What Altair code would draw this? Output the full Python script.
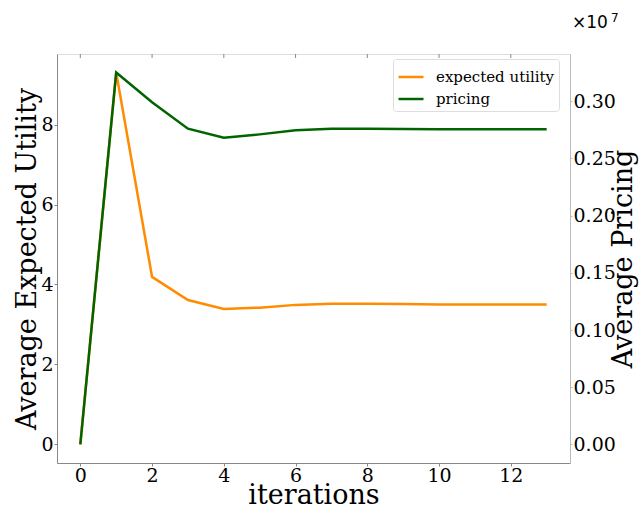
import altair as alt
import pandas as pd

iterations = list(range(14))
utility = [0, 9.3, 4.19, 3.61, 3.39, 3.42, 3.49, 3.52, 3.52, 3.51, 3.50, 3.50, 3.50, 3.50]
pricing = [0, 3.25e6, 2.99e6, 2.76e6, 2.68e6, 2.71e6, 2.745e6, 2.76e6, 2.76e6, 2.757e6,
           2.755e6, 2.755e6, 2.755e6, 2.755e6]
series = ["expected utility", "pricing"]
colors = ["#ff8c00", "#006400"]
x_ticks = [0, 2, 4, 6, 8, 10, 12]
left_ticks = [0, 2, 4, 6, 8]
right_ticks = [0, 5e5, 1e6, 1.5e6, 2e6, 2.5e6, 3e6]

df_u = pd.DataFrame({"iterations": iterations, "value": utility, "series": series[0]})
df_p = pd.DataFrame({"iterations": iterations, "value": pricing, "series": series[1]})
df_t = pd.DataFrame({"t": x_ticks})

FONT = "DejaVu Serif"
xscale = alt.Scale(domain=[-0.65, 13.65], nice=False, zero=False)
color = alt.Color("series:N", scale=alt.Scale(domain=series, range=colors),
                  legend=alt.Legend(title=None, orient="none", legendX=336, legendY=5,
                                    symbolType="stroke", symbolSize=625, symbolStrokeWidth=2.5,
                                    labelFont=FONT, labelFontSize=15, labelColor="#000",
                                    strokeColor="#dddddd", fillColor="white", padding=4,
                                    cornerRadius=3, rowPadding=-2, labelOffset=11))

xaxis = alt.Axis(values=x_ticks, title="iterations", titleFont=FONT, titleFontSize=27,
                 titleFontWeight="normal", titleColor="#000", labelFont=FONT, labelFontSize=19,
                 labelColor="#000", tickSize=3, tickColor="#888", domainColor="#888",
                 labelPadding=0, titleBaseline="alphabetic", titleY=40, titleX=256.5,
                 grid=False)

left = alt.Chart(df_u).mark_line(strokeWidth=2.5, clip=True).encode(
    x=alt.X("iterations:Q", scale=xscale, axis=xaxis),
    y=alt.Y("value:Q", scale=alt.Scale(domain=[-0.465, 9.765], nice=False, zero=False),
            axis=alt.Axis(values=left_ticks, title="Average Expected Utility", titleFont=FONT,
                          titleFontSize=27, titleFontWeight="normal", titleColor="#000",
                          titleAngle=270, titleBaseline="alphabetic", titleAlign="center",
                          titleX=-22, titleY=204.5,
                          labelFont=FONT, labelFontSize=19, labelColor="#000", tickSize=3,
                          tickColor="#888", domainColor="#888", labelPadding=1,
                          grid=False)),
    color=color,
)

right = alt.Chart(df_p).mark_line(strokeWidth=2.5, clip=True).encode(
    x=alt.X("iterations:Q", scale=xscale),
    y=alt.Y("value:Q", scale=alt.Scale(domain=[-1.625e5, 3.4125e6], nice=False, zero=False),
            axis=alt.Axis(orient="right", values=right_ticks, title="Average Pricing",
                          labelExpr="format(datum.value / 1e7, '.2f')",
                          titleFont=FONT, titleFontSize=27, titleFontWeight="normal",
                          titleColor="#000", titleAngle=270, titleBaseline="alphabetic",
                          titleAlign="center", titleX=61, titleY=204.5,
                          labelFont=FONT, labelFontSize=19, labelColor="#000", tickSize=2,
                          tickColor="#bbb", domainColor="#bbb", labelPadding=1,
                          grid=False)),
    color=color,
)

top_ticks = alt.Chart(df_t).mark_rule(color="#888", strokeWidth=1).encode(
    x=alt.X("t:Q", scale=xscale), y=alt.value(0), y2=alt.value(4))

exp_base = alt.Chart(pd.DataFrame({"txt": ["×10"]})).mark_text(
    font="DejaVu Sans", fontSize=17, color="#000", align="left", baseline="alphabetic").encode(
    text="txt:N", x=alt.value(515), y=alt.value(-26))
exp_pow = alt.Chart(pd.DataFrame({"txt": ["7"]})).mark_text(
    font="DejaVu Sans", fontSize=12, color="#000", align="left", baseline="alphabetic").encode(
    text="txt:N", x=alt.value(554), y=alt.value(-32))

chart = alt.layer(left, right, top_ticks, exp_base, exp_pow).resolve_scale(y="independent").properties(
    width=513, height=409,
    autosize=alt.AutoSizeParams(type="none"),
    padding={"left": 57, "top": 54, "right": 71, "bottom": 46},
).configure_view(stroke="#bbbbbb", strokeWidth=1.2).configure(background="white")

chart.save("out.html", embed_options={"renderer": "svg", "actions": False})
